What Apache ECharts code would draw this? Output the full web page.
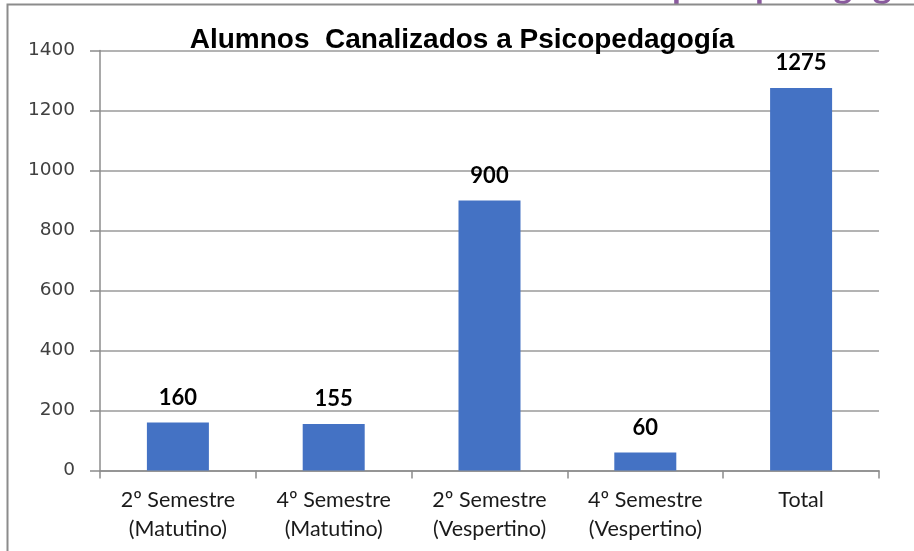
<!DOCTYPE html>
<html>
<head>
<meta charset="utf-8">
<script src="https://cdn.jsdelivr.net/npm/echarts@6/dist/echarts.min.js"></script>
<style>
html,body{margin:0;padding:0;background:#fff;}
#chart{width:914px;height:551px;}
</style>
</head>
<body>
<div id="chart"></div>
<script>
var titleText = 'Alumnos  Canalizados a Psicopedagogía';
var categories = ['2º Semestre\n(Matutino)', '4º Semestre\n(Matutino)', '2º Semestre\n(Vespertino)', '4º Semestre\n(Vespertino)', 'Total'];
var values = [160, 155, 900, 60, 1275];
var yTicks = [0, 200, 400, 600, 800, 1000, 1200, 1400];

var chart = echarts.init(document.getElementById('chart'), null, {renderer: 'canvas'});
chart.setOption({
  animation: false,
  backgroundColor: '#ffffff',
  title: {
    text: titleText,
    left: 457,
    textAlign: 'center',
    top: 21,
    textStyle: {fontFamily: 'Liberation Sans, Arial, sans-serif', fontWeight: 'bold', fontSize: 28, color: '#000000'}
  },
  graphic: [
    {type: 'polyline', shape: {points: [[7.5, 560], [7.5, 4.5], [920, 4.5]]}, style: {stroke: '#8c8c8c', lineWidth: 2, fill: null}, z: 10},
    {type: 'text', left: 672, top: -32, style: {text: 'psicopedagogía', font: 'bold 36px Lato, sans-serif', fill: '#8a5a9e'}, z: 9}
  ],
  grid: {left: 100, right: 35, top: 50.5, bottom: 80.5},
  xAxis: {
    type: 'category',
    data: categories,
    axisLine: {lineStyle: {color: '#8c8c8c', width: 1.5}},
    axisTick: {show: true, length: 8, lineStyle: {color: '#8c8c8c', width: 1.5}},
    axisLabel: {margin: 15, fontFamily: 'Lato, sans-serif', fontSize: 21.5, lineHeight: 29, color: '#1a1a1a'}
  },
  yAxis: {
    type: 'value',
    min: yTicks[0],
    max: yTicks[yTicks.length - 1],
    interval: 200,
    axisLine: {show: true, lineStyle: {color: '#8c8c8c', width: 1.5}},
    axisTick: {show: true, length: 10, lineStyle: {color: '#8c8c8c', width: 1.5}},
    axisLabel: {margin: 25, fontFamily: 'DejaVu Sans, sans-serif', fontSize: 18.5, color: '#404040', formatter: function (v) { return String(v); }},
    splitLine: {show: true, lineStyle: {color: '#9a9a9a', width: 1.5}}
  },
  series: [{
    type: 'bar',
    data: values,
    barWidth: 62,
    itemStyle: {color: '#4472c4'},
    label: {show: true, position: 'top', distance: 14, fontFamily: 'Lato, sans-serif', fontWeight: 'bold', fontSize: 22, color: '#000000'}
  }]
});
</script>
</body>
</html>
